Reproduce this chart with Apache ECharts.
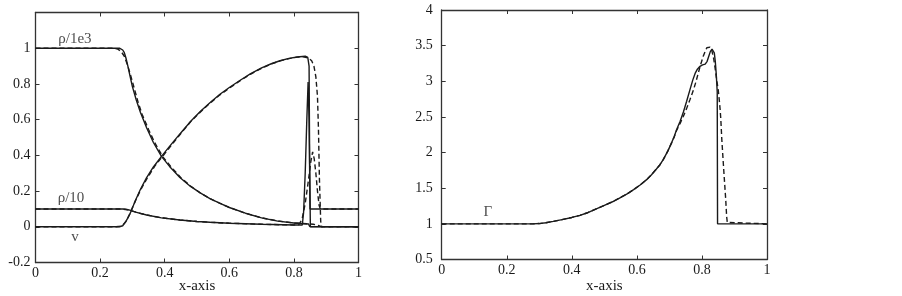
<!DOCTYPE html>
<html><head><meta charset="utf-8">
<script src="https://cdn.jsdelivr.net/npm/echarts@6/dist/echarts.min.js"></script>
<style>html,body{margin:0;padding:0;background:#fff}#c{width:902px;height:296px}</style>
</head><body><div id="c"></div>
<script>
// ---- Left panel data (x, value) ----
const rhoE3Solid = [[0,1],[0.26,1],[0.266,0.998],[0.27,0.99],[0.275,0.975],[0.28,0.945],[0.286,0.9],[0.292,0.85],[0.3,0.785],[0.312,0.71],[0.325,0.64],[0.344,0.555],[0.365,0.472],[0.39,0.394],[0.415,0.338],[0.447,0.276],[0.48,0.226],[0.51,0.19],[0.54,0.158],[0.57,0.132],[0.6,0.108],[0.65,0.076],[0.7,0.05],[0.75,0.032],[0.8,0.021],[0.845,0.016],[0.849,0.002],[1,0.001]];
const rhoE3Dashed = [[0,1],[0.24,1],[0.255,0.995],[0.265,0.982],[0.275,0.955],[0.285,0.905],[0.295,0.845],[0.305,0.78],[0.318,0.695],[0.33,0.63],[0.35,0.545],[0.37,0.468],[0.395,0.39],[0.42,0.335],[0.45,0.275],[0.48,0.228],[0.51,0.19],[0.54,0.158],[0.57,0.132],[0.6,0.108],[0.65,0.076],[0.7,0.05],[0.75,0.033],[0.8,0.021],[0.84,0.017],[0.86,0.014],[0.875,0.008],[0.885,0.001],[1,0.001]];
const rho10Solid = [[0,0.1],[0.27,0.1],[0.28,0.098],[0.292,0.093],[0.31,0.082],[0.344,0.066],[0.39,0.05],[0.447,0.038],[0.5,0.03],[0.54,0.025],[0.6,0.02],[0.7,0.014],[0.8,0.01],[0.826,0.01],[0.83,0.08],[0.835,0.3],[0.84,0.6],[0.844,0.81],[0.847,0.6],[0.85,0.1],[1,0.1]];
const rho10Dashed = [[0,0.1],[0.25,0.1],[0.27,0.099],[0.285,0.095],[0.3,0.088],[0.32,0.077],[0.344,0.066],[0.39,0.051],[0.447,0.038],[0.5,0.03],[0.54,0.025],[0.6,0.02],[0.7,0.014],[0.8,0.01],[0.815,0.012],[0.825,0.04],[0.835,0.13],[0.845,0.26],[0.852,0.36],[0.858,0.42],[0.863,0.38],[0.868,0.3],[0.873,0.2],[0.878,0.12],[0.882,0.1],[1,0.1]];
const vSolid = [[0,0],[0.26,0],[0.266,0.002],[0.27,0.006],[0.275,0.018],[0.28,0.03],[0.292,0.07],[0.31,0.15],[0.325,0.21],[0.344,0.275],[0.365,0.335],[0.39,0.394],[0.415,0.45],[0.447,0.52],[0.48,0.59],[0.51,0.645],[0.54,0.695],[0.571,0.742],[0.6,0.78],[0.635,0.822],[0.665,0.856],[0.7,0.89],[0.73,0.913],[0.757,0.93],[0.785,0.943],[0.81,0.951],[0.835,0.955],[0.843,0.948],[0.847,0.9],[0.849,0.3],[0.851,0],[1,0]];
const vDashed = [[0,0],[0.25,0],[0.262,0.003],[0.27,0.01],[0.278,0.025],[0.286,0.05],[0.296,0.09],[0.31,0.148],[0.325,0.205],[0.345,0.27],[0.37,0.342],[0.395,0.398],[0.42,0.455],[0.45,0.522],[0.48,0.588],[0.51,0.642],[0.54,0.692],[0.571,0.739],[0.6,0.776],[0.635,0.82],[0.665,0.854],[0.7,0.888],[0.73,0.912],[0.757,0.929],[0.785,0.942],[0.81,0.95],[0.83,0.952],[0.845,0.945],[0.855,0.93],[0.862,0.9],[0.868,0.84],[0.873,0.73],[0.876,0.55],[0.879,0.27],[0.883,0.03],[0.886,0],[1,0]];
// ---- Right panel data ----
const gammaSolid = [[0,1],[0.28,1],[0.3,1.004],[0.32,1.015],[0.343,1.035],[0.37,1.06],[0.4,1.09],[0.425,1.12],[0.446,1.152],[0.47,1.2],[0.5,1.26],[0.525,1.31],[0.548,1.366],[0.57,1.42],[0.59,1.48],[0.61,1.545],[0.63,1.62],[0.645,1.69],[0.66,1.77],[0.671,1.83],[0.681,1.9],[0.695,2.02],[0.707,2.14],[0.715,2.23],[0.722,2.32],[0.733,2.44],[0.743,2.57],[0.753,2.72],[0.763,2.88],[0.772,3.02],[0.779,3.11],[0.786,3.17],[0.794,3.21],[0.802,3.23],[0.81,3.24],[0.816,3.28],[0.821,3.35],[0.826,3.42],[0.831,3.45],[0.835,3.44],[0.838,3.4],[0.841,3.28],[0.844,3.1],[0.847,2.85],[0.848,1],[1,1]];
const gammaDashed = [[0,1],[0.28,1],[0.3,1.004],[0.32,1.015],[0.343,1.035],[0.37,1.06],[0.4,1.09],[0.425,1.12],[0.446,1.152],[0.47,1.2],[0.5,1.26],[0.525,1.31],[0.548,1.366],[0.57,1.42],[0.59,1.48],[0.61,1.545],[0.63,1.62],[0.645,1.69],[0.66,1.77],[0.671,1.83],[0.681,1.9],[0.695,2.02],[0.707,2.14],[0.715,2.22],[0.722,2.31],[0.733,2.41],[0.743,2.51],[0.753,2.62],[0.763,2.74],[0.774,2.88],[0.782,3.0],[0.789,3.12],[0.797,3.25],[0.804,3.35],[0.81,3.42],[0.815,3.47],[0.82,3.49],[0.825,3.48],[0.83,3.44],[0.836,3.32],[0.84,3.2],[0.845,3.03],[0.85,2.88],[0.853,2.75],[0.856,2.6],[0.858,2.47],[0.861,2.19],[0.865,1.9],[0.869,1.62],[0.873,1.35],[0.876,1.1],[0.878,1.02],[0.879,1],[1,1]];
// ---- Annotations ----
const leftLabels = [['ρ/1e3',0.122,1.05],['ρ/10',0.11,0.16],['v',0.122,-0.06]];
const rightLabels = [['Γ',0.142,1.16]];
const xAxisTitle = 'x-axis';

const FONT = 'Liberation Serif';
const INK = '#1a1a1a';
const chart = echarts.init(document.getElementById('c'));
function xAx(grid, pos, labels, gap){
  return {type:'value',gridIndex:grid,position:pos,min:0,max:1,interval:0.2,
    axisLine:{show:true,onZero:false,lineStyle:{color:'#333',width:1.3}},
    axisTick:{show:true,inside:true,length:4,lineStyle:{color:'#333'}},
    splitLine:{show:false},
    axisLabel:{show:labels,margin:4,color:INK,fontFamily:FONT,fontSize:14},
    name:labels?xAxisTitle:'',nameLocation:'middle',nameGap:gap||0,nameMoveOverlap:false,
    nameTextStyle:{color:INK,fontFamily:FONT,fontSize:15}};
}
function yAx(grid, pos, labels, min, max, iv, hideTop, margin){
  return {type:'value',gridIndex:grid,position:pos,min:min,max:max,interval:iv,
    axisLine:{show:true,onZero:false,lineStyle:{color:'#333',width:1.3}},
    axisTick:{show:true,inside:true,length:4,lineStyle:{color:'#333'}},
    splitLine:{show:false},
    axisLabel:{show:labels,margin:margin,color:INK,fontFamily:FONT,fontSize:14,
      formatter:function(v){ if(hideTop && Math.abs(v-max)<1e-9) return ''; return String(Math.round(v*10)/10);} }};
}
function line(data, xi, yi, dashed){
  return {type:'line',xAxisIndex:xi,yAxisIndex:yi,data:data,symbol:'none',smooth:false,silent:true,
    lineStyle:{color:INK,width:1.4,type:dashed?[5,3]:'solid'}};
}
function labels(arr, xi, yi){
  return {type:'scatter',xAxisIndex:xi,yAxisIndex:yi,symbolSize:0,silent:true,
    data:arr.map(a=>({name:a[0],value:[a[1],a[2]]})),
    label:{show:true,position:'inside',formatter:'{b}',color:INK,fontFamily:FONT,fontSize:15}};
}
chart.setOption({
  animation:false,
  backgroundColor:'#fff',
  grid:[{left:35.5,top:12.5,width:323,height:250,outerBoundsMode:'none',containLabel:false},
        {left:441.7,top:10,width:325.3,height:249.5,outerBoundsMode:'none',containLabel:false}],
  xAxis:[xAx(0,'bottom',true,16.5),xAx(0,'top',false),xAx(1,'bottom',true,19.5),xAx(1,'top',false)],
  yAxis:[yAx(0,'left',true,-0.2,1.2,0.2,true,5),yAx(0,'right',false,-0.2,1.2,0.2,true,5),
         yAx(1,'left',true,0.5,4,0.5,false,9),yAx(1,'right',false,0.5,4,0.5,false,9)],
  series:[
    line(rhoE3Dashed,0,0,true),line(rho10Dashed,0,0,true),line(vDashed,0,0,true),
    line(rhoE3Solid,0,0,false),line(rho10Solid,0,0,false),line(vSolid,0,0,false),
    line(gammaDashed,2,2,true),line(gammaSolid,2,2,false),
    labels(leftLabels,0,0),labels(rightLabels,2,2)
  ]
});
</script></body></html>
